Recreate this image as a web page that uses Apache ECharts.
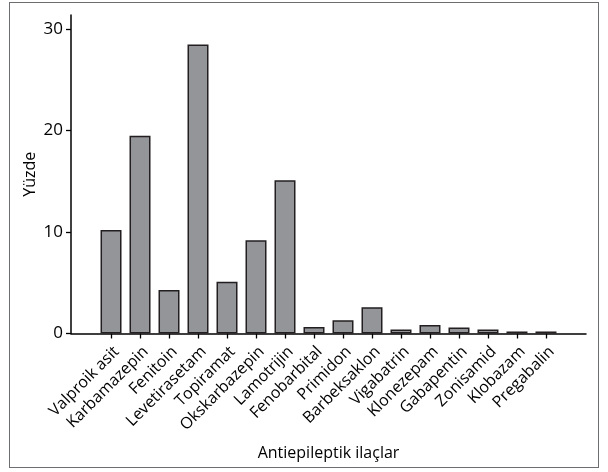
<!DOCTYPE html>
<html>
<head>
<meta charset="utf-8">
<script src="https://cdn.jsdelivr.net/npm/echarts@6/dist/echarts.min.js"></script>
<style>
html,body{margin:0;padding:0;background:#fff;}
#wrap{position:absolute;left:9px;top:2px;width:590px;height:466px;border:1.3px solid #6d6e71;box-sizing:border-box;}
#chart{position:absolute;left:0;top:0;width:608px;height:472px;}
</style>
</head>
<body>
<div id="wrap"></div>
<div id="chart"></div>
<script>
const categories = ["Valproik asit","Karbamazepin","Fenitoin","Levetirasetam","Topiramat","Okskarbazepin","Lamotrijin","Fenobarbital","Primidon","Barbeksaklon","Vigabatrin","Klonezepam","Gabapentin","Zonisamid","Klobazam","Pregabalin"];
const values = [10.2,19.5,4.3,28.5,5.1,9.2,15.1,0.65,1.3,2.6,0.4,0.85,0.6,0.4,0.2,0.2];
const yTicks = [0,10,20,30];
const yTitle = "Yüzde";
const xTitle = "Antiepileptik ilaçlar";

const FONT = "Open Sans";
const idx = categories.map((c,i)=>i);
const chart = echarts.init(document.getElementById('chart'), null, {renderer:'canvas'});
chart.setOption({
  animation:false,
  grid:{left:71,right:22,top:15,bottom:138.5},
  xAxis:{
    type:'value', min:-1.38, max:categories.length-1+1.38,
    splitLine:{show:false},
    axisLine:{show:true,onZero:false,lineStyle:{color:'#000',width:1.5}},
    axisTick:{show:true,customValues:idx,length:5,lineStyle:{color:'#000',width:1.3}},
    axisLabel:{customValues:idx,rotate:45,verticalAlign:'top',formatter:v=>categories[Math.round(v)],color:'#000',fontFamily:FONT,fontSize:16,margin:10},
    name:xTitle,nameLocation:'middle',nameGap:112,nameMoveOverlap:false,
    nameTextStyle:{color:'#000',fontFamily:FONT,fontSize:16}
  },
  yAxis:{
    type:'value', min:0, max:31.4,
    splitLine:{show:false},
    axisLine:{show:true,onZero:false,lineStyle:{color:'#000',width:1.5}},
    axisTick:{show:true,customValues:yTicks,length:5,lineStyle:{color:'#000',width:1.3}},
    axisLabel:{customValues:yTicks,color:'#000',fontFamily:FONT,fontSize:17,margin:8},
    name:yTitle,nameLocation:'middle',nameGap:33,nameMoveOverlap:false,
    nameTextStyle:{color:'#000',fontFamily:FONT,fontSize:16}
  },
  series:[{
    type:'bar',
    data:values.map((v,i)=>[i,v]),
    barWidth:21,
    itemStyle:{color:'#939598',borderColor:'#231f20',borderWidth:1.5}
  }]
});
</script>
</body>
</html>
